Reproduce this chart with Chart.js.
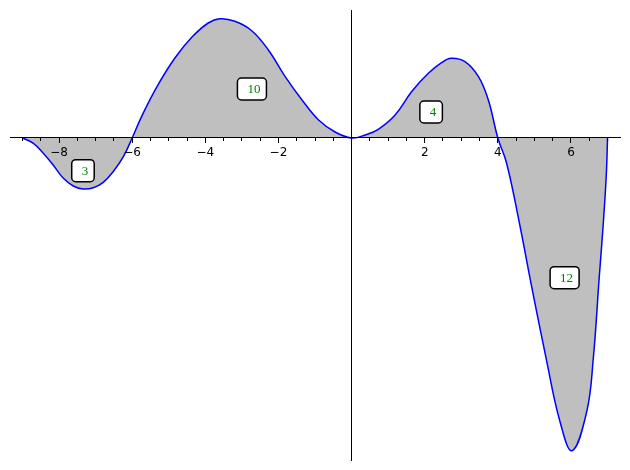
<!DOCTYPE html>
<html>
<head>
<meta charset="utf-8">
<script src="https://cdn.jsdelivr.net/npm/chart.js@4"></script>
<style>
  body { margin: 0; background: #fff; }
  canvas { display: block; }
</style>
</head>
<body>
<canvas id="myChart" width="630" height="470"></canvas>
<script>
///////////// DATA /////////////

// curve (x, y)
const xs = [-9.0, -8.70, -8.43, -8.16, -7.88, -7.61, -7.34, -7.06, -6.79, -6.52, -6.24, -6.0,
  -5.74, -5.29, -4.83, -4.37, -3.92, -3.60, -3.19, -2.73, -2.28, -1.82, -1.36, -0.91, -0.45, 0,
  0.37, 0.73, 1.19, 1.64, 2.10, 2.46, 2.72, 3.10, 3.47, 3.74, 4.0,
  4.24, 4.60, 4.88, 5.32, 5.70, 6.03, 6.43, 6.61, 6.77, 6.88, 6.965, 7.0];
const ys = [0, -0.53, -1.53, -2.70, -4.03, -4.80, -5.10, -4.97, -4.43, -3.37, -1.87, 0,
  2.17, 5.33, 8.0, 10.07, 11.5, 11.93, 11.67, 10.73, 8.83, 6.17, 3.83, 1.83, 0.6, 0,
  0.3, 0.87, 2.3, 4.63, 6.47, 7.53, 7.97, 7.63, 6.13, 3.8, 0,
  -2.53, -8.7, -14.03, -22.03, -28.37, -31.27, -27.37, -22.03, -14.03, -8.7, -3.7, 0];

// tick marks on the x axis
const majorTicks = [-8, -6, -4, -2, 2, 4, 6];
const minorTicks = [];
for (let t = -9; t <= 7; t += 0.5) if (majorTicks.indexOf(t) < 0 && t !== 0) minorTicks.push(t);

// boxed labels
const labelText = ['3', '10', '4', '12'];
const labelX = [-7.29, -2.67, 2.23, 5.88];
const labelY = [-3.27, 4.9, 2.6, -13.97];

const fmt = v => (v < 0 ? '\u2212' + (-v) : String(v));

///////////// LABEL BOXES /////////////

const boxLabels = {
  id: 'boxLabels',
  afterDatasetsDraw(chart) {
    const { ctx, scales: { x, y } } = chart;
    ctx.save();
    ctx.font = '13px "Liberation Serif", serif';
    ctx.textAlign = 'center';
    ctx.textBaseline = 'middle';
    labelText.forEach((txt, i) => {
      const px = x.getPixelForValue(labelX[i]);
      const py = y.getPixelForValue(labelY[i]);
      const w = ctx.measureText(txt).width;
      const left = px - w / 2 - 10, right = px + w / 2 + 6;
      ctx.beginPath();
      ctx.roundRect(left, py - 11, right - left, 22, 4);
      ctx.fillStyle = '#fff';
      ctx.fill();
      ctx.lineWidth = 1.5;
      ctx.strokeStyle = '#000';
      ctx.stroke();
      ctx.fillStyle = '#008000';
      ctx.fillText(txt, px, py + 1);
    });
    ctx.restore();
  }
};

/////////////// CHART ///////////////////////

// axes sit on top of the grey fill, so every layer gets z: 1
const ctx = document.getElementById('myChart').getContext('2d');
new Chart(ctx, {
  type: 'line',
  data: {
    datasets: [{
      data: xs.map((x, i) => ({ x, y: ys[i] })),
      borderColor: '#0000ff',
      borderWidth: 1.5,
      backgroundColor: '#bfbfbf',
      fill: 'origin',
      pointRadius: 0,
      tension: 0.4
    }]
  },
  options: {
    responsive: false,
    animation: false,
    devicePixelRatio: 1,
    layout: { padding: 10 },
    plugins: { legend: { display: false }, tooltip: { enabled: false } },
    scales: {
      x: {
        type: 'linear', min: -9.34, max: 7.34,
        position: { y: 0 },
        afterBuildTicks: s => { s.ticks = majorTicks.map(v => ({ value: v })); },
        ticks: { autoSkip: false, maxRotation: 0, padding: 3, color: '#000', z: 1,
          font: { family: '"DejaVu Sans"', size: 12 }, callback: v => fmt(v) },
        grid: { drawOnChartArea: false, tickLength: 5, tickColor: '#000', tickWidth: 1, z: 1 },
        border: { display: true, color: '#000', width: 1, z: 1 }
      },
      x2: {
        type: 'linear', min: -9.34, max: 7.34,
        position: { y: 0 },
        afterBuildTicks: s => { s.ticks = minorTicks.map(v => ({ value: v })); },
        ticks: { display: false },
        grid: { drawOnChartArea: false, tickLength: 3, tickColor: '#000', tickWidth: 1, z: 1 },
        border: { display: false }
      },
      y: {
        type: 'linear', min: -32.2, max: 12.8,
        position: { x: 0 },
        ticks: { display: false },
        grid: { display: false, drawTicks: false },
        border: { display: true, color: '#000', width: 1, z: 1 }
      }
    }
  },
  plugins: [boxLabels]
});
</script>
</body>
</html>
